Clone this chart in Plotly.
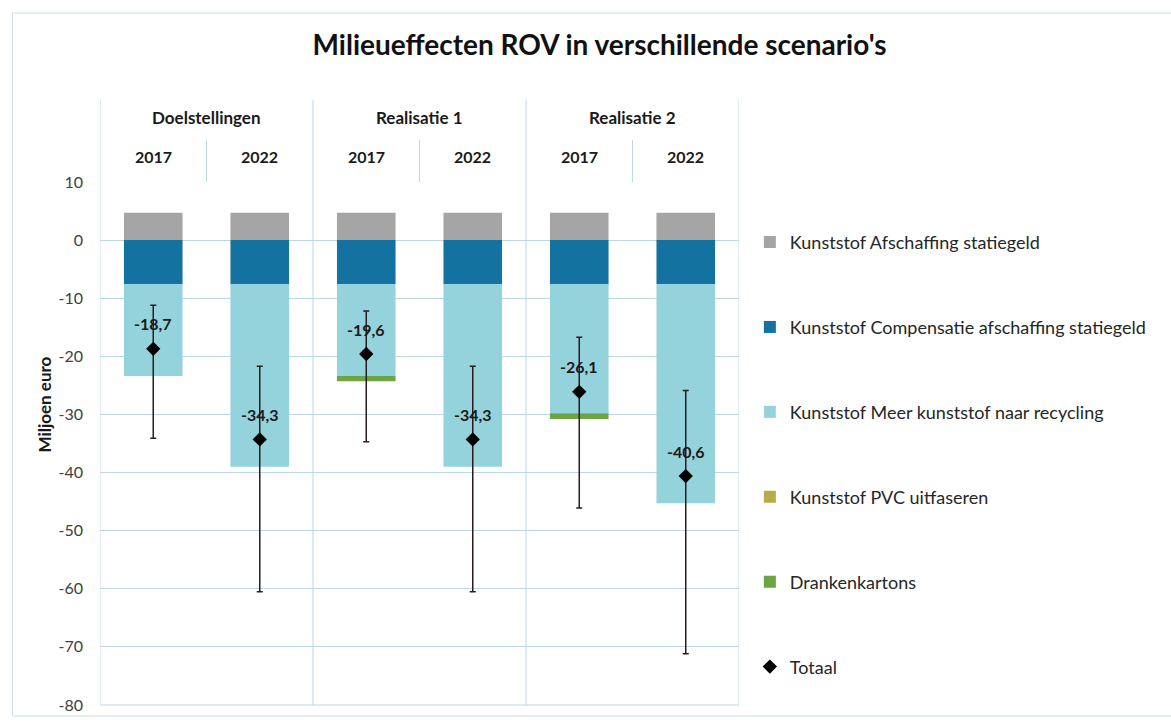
import plotly.graph_objects as go

# --- data -------------------------------------------------------------
groups = ["Doelstellingen", "Realisatie 1", "Realisatie 2"]
years = ["2017", "2022", "2017", "2022", "2017", "2022"]

afschaffing = [4.7, 4.7, 4.7, 4.7, 4.7, 4.7]
compensatie = [-7.6, -7.6, -7.6, -7.6, -7.6, -7.6]
recycling = [-15.8, -31.4, -15.8, -31.4, -22.2, -37.7]
pvc = [0, 0, 0, 0, 0, 0]
drankenkartons = [0, 0, -0.9, 0, -1.0, 0]

totaal = [-18.7, -34.3, -19.6, -34.3, -26.1, -40.6]
totaal_hoog = [-11.2, -21.7, -12.2, -21.7, -16.7, -25.9]
totaal_laag = [-34.1, -60.5, -34.7, -60.5, -46.1, -71.2]

y_ticks = [10, 0, -10, -20, -30, -40, -50, -60, -70, -80]

# --- styling ------------------------------------------------------------
FONT = "Lato"
TXT = "#404040"
GRID = "#bcd6ea"
x = list(range(len(years)))

series = [
    ("Kunststof Afschaffing statiegeld", afschaffing, "#a5a5a5"),
    ("Kunststof Compensatie afschaffing statiegeld", compensatie, "#13729f"),
    ("Kunststof Meer kunststof naar recycling", recycling, "#95d3dc"),
    ("Kunststof PVC uitfaseren", pvc, "#b8ab4a"),
    ("Drankenkartons", drankenkartons, "#6ea544"),
]

fig = go.Figure()
for name, vals, color in series:
    fig.add_trace(go.Bar(
        x=x, y=vals, name=name, marker_color=color, marker_line_width=0,
        width=0.55, legendgroup=name, hoverinfo="y+name",
    ))

fig.add_trace(go.Scatter(
    x=x, y=totaal, mode="markers", name="Totaal", legendgroup="Totaal",
    marker=dict(symbol="diamond", size=11, color="black"),
    error_y=dict(
        type="data", symmetric=False,
        array=[h - t for h, t in zip(totaal_hoog, totaal)],
        arrayminus=[t - l for t, l in zip(totaal, totaal_laag)],
        color="#2a1c1c", thickness=1.5, width=3,
    ),
))

# value labels above the diamonds
for xi, t in zip(x, totaal):
    fig.add_annotation(
        x=xi, y=t, text=f"<b>{t:.1f}</b>".replace(".", ","), showarrow=False,
        yshift=25, font=dict(family=FONT, size=16, color="#1a1a1a"),
    )

# header: years and scenario groups above the plot
for xi, yr in zip(x, years):
    fig.add_annotation(x=xi, y=1.048, yref="paper", yanchor="middle", text=f"<b>{yr}</b>",
                       showarrow=False, font=dict(family=FONT, size=16, color="#1a1a1a"))
for gi, g in enumerate(groups):
    fig.add_annotation(x=gi * 2 + 0.5, y=1.124, yref="paper", yanchor="middle", text=f"<b>{g}</b>",
                       showarrow=False, font=dict(family=FONT, size=17, color="#1a1a1a"))

# y-axis title as a free annotation (sits above the plot's middle in the original)
fig.add_annotation(x=-0.106, y=0.574, xref="paper", yref="paper", textangle=-90,
                   text="<b>Miljoen euro</b>", showarrow=False,
                   font=dict(family=FONT, size=17, color="#1a1a1a"))

line = dict(color=GRID, width=1)
shapes = []
for xb in [-0.5, 1.5, 3.5, 5.5]:
    shapes.append(dict(type="line", xref="x", yref="paper", x0=xb, x1=xb, y0=0, y1=1.157, line=line))
for xb in [0.5, 2.5, 4.5]:
    shapes.append(dict(type="line", xref="x", yref="paper", x0=xb, x1=xb, y0=1.0, y1=1.08, line=line))
shapes.append(dict(type="line", xref="paper", yref="paper", x0=0, x1=1, y0=0, y1=0, line=line))
# outer chart border
shapes.append(dict(type="rect", xref="paper", yref="paper",
                   x0=-0.137, x1=1.68, y0=-0.021, y1=1.323,
                   line=dict(color="#c9dcec", width=1)))

fig.update_layout(
    barmode="relative",
    width=1171, height=725,
    margin=dict(l=100, r=432, t=182, b=20),
    paper_bgcolor="white", plot_bgcolor="white",
    title=dict(text="<b>Milieueffecten ROV in verschillende scenario's</b>",
               x=0.512, xref="container", xanchor="center", y=0.937, yanchor="middle",
               font=dict(family=FONT, size=28, color="#111111")),
    font=dict(family=FONT, size=15, color=TXT),
    shapes=shapes,
    showlegend=True,
    legend=dict(x=1.017, xanchor="left", y=0.920, yanchor="top",
                traceorder="grouped", tracegroupgap=58.5,
                font=dict(family=FONT, size=18, color="#262626"),
                itemwidth=30, bgcolor="rgba(0,0,0,0)"),
    xaxis=dict(range=[-0.5, 5.5], showticklabels=False, showgrid=False,
               zeroline=False, fixedrange=True),
    yaxis=dict(range=[-80, 10], tickvals=y_ticks, ticktext=[str(v) for v in y_ticks],
               gridcolor=GRID, gridwidth=1,
               zeroline=True, zerolinecolor=GRID, zerolinewidth=1,
               tickfont=dict(family=FONT, size=16, color=TXT),
               ticks="", ticklabelstandoff=16),
)

fig.write_html("out.html", config={"displayModeBar": False},
               post_script="document.body.style.margin='0';")
